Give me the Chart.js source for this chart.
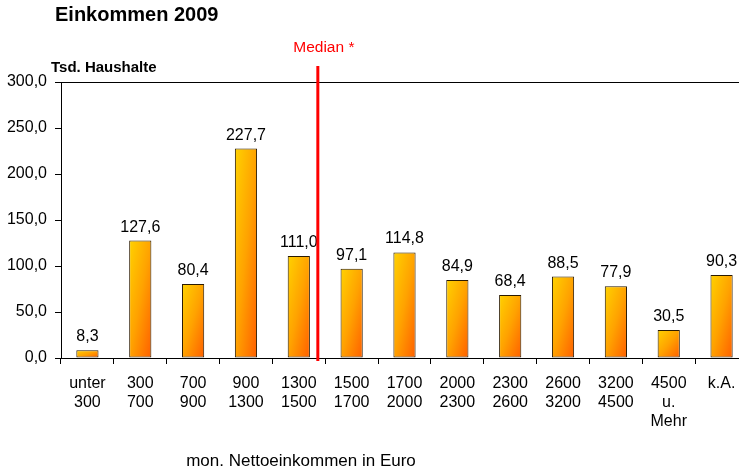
<!DOCTYPE html>
<html>
<head>
<meta charset="utf-8">
<script src="https://cdn.jsdelivr.net/npm/chart.js@4/dist/chart.umd.min.js"></script>
<style>
  html, body { margin: 0; padding: 0; background: #fff; overflow: hidden; }
  #wrap { width: 760px; height: 470px; }
</style>
</head>
<body>
<div id="wrap"><canvas id="chart" width="760" height="470"></canvas></div>
<script>
// Daten
const kategorien = [
    ['unter', '300'], ['300', '700'], ['700', '900'], ['900', '1300'], ['1300', '1500'],
    ['1500', '1700'], ['1700', '2000'], ['2000', '2300'], ['2300', '2600'], ['2600', '3200'],
    ['3200', '4500'], ['4500', 'u.', 'Mehr'], ['k.A.']
];
const haushalte = [8.3, 127.6, 80.4, 227.7, 111.0, 97.1, 114.8, 84.9, 68.4, 88.5, 77.9, 30.5, 90.3];
const y_ticks = [0, 50, 100, 150, 200, 250, 300];
// Median liegt in der Klasse 1300-1500 (Index 4), ca. bei 1470 Euro
const median_pos = 4.36;

const fmt = v => v.toFixed(1).replace('.', ',');
const FONT = '"Liberation Sans", Arial, sans-serif';

function bar_gradient(ctx, el) {
    const l = el.x - el.width / 2, r = el.x + el.width / 2;
    const t = Math.min(el.y, el.base), b = Math.max(el.y, el.base);
    const w = r - l, h = b - t;
    // diagonaler Verlauf oben links -> unten rechts
    const k = 2 * w * h / (w * w + h * h);
    const g = ctx.createLinearGradient(l, t, l + h * k, t + w * k);
    g.addColorStop(0, '#ffd200');
    g.addColorStop(0.5, '#ffa200');
    g.addColorStop(1, '#ff5f00');
    return g;
}

const extras = {
    id: 'extras',
    beforeDatasetsDraw(chart) {
        // Verlauf pro Balken setzen
        chart.getDatasetMeta(0).data.forEach(bar => {
            bar.options.backgroundColor = bar_gradient(chart.ctx, bar);
        });
    },
    afterDatasetsDraw(chart) {
        const ctx = chart.ctx;
        const area = chart.chartArea;
        const xs = chart.scales.x;
        ctx.save();

        // Werte über den Balken
        ctx.fillStyle = '#000';
        ctx.font = '16px ' + FONT;
        ctx.textAlign = 'center';
        ctx.textBaseline = 'alphabetic';
        chart.getDatasetMeta(0).data.forEach((bar, i) => {
            ctx.fillText(fmt(haushalte[i]), bar.x, bar.y - 9);
        });

        // Medianlinie
        const mx = xs.getPixelForValue(median_pos);
        ctx.strokeStyle = '#ff0000';
        ctx.lineWidth = 3;
        ctx.beginPath();
        ctx.moveTo(mx, area.top - 16);
        ctx.lineTo(mx, area.bottom + 3);
        ctx.stroke();
        ctx.fillStyle = '#ff0000';
        ctx.font = '15.5px ' + FONT;
        ctx.textBaseline = 'middle';
        ctx.fillText('Median *', mx + 6, area.top - 34);

        // Titel und Achsentitel
        ctx.fillStyle = '#000';
        ctx.textAlign = 'left';
        ctx.font = 'bold 20px ' + FONT;
        ctx.fillText('Einkommen 2009', 55, 15);
        ctx.font = 'bold 15px ' + FONT;
        ctx.fillText('Tsd. Haushalte', 51, area.top - 14);
        ctx.font = '17px ' + FONT;
        ctx.textAlign = 'center';
        ctx.fillText('mon. Nettoeinkommen in Euro', 301, 461);
        ctx.restore();
    }
};

new Chart(document.getElementById('chart').getContext('2d'), {
    type: 'bar',
    data: {
        labels: kategorien,
        datasets: [{
            data: haushalte,
            backgroundColor: () => '#ffa200',
            borderColor: '#2a1a00',
            borderWidth: 1,
            borderSkipped: false,
            barPercentage: 0.42,
            categoryPercentage: 1.0
        }]
    },
    options: {
        responsive: false,
        animation: false,
        layout: { padding: { top: 82, right: 12, left: 0, bottom: 0 } },
        plugins: {
            legend: { display: false },
            tooltip: { enabled: false }
        },
        scales: {
            x: {
                afterFit: s => { s.height = 112; },
                grid: {
                    offset: true,
                    drawOnChartArea: false,
                    tickLength: 6,
                    tickColor: '#000'
                },
                border: { color: '#000', width: 1 },
                ticks: {
                    color: '#000',
                    font: { size: 16, family: FONT, lineHeight: 1.2 },
                    padding: 10,
                    maxRotation: 0,
                    autoSkip: false
                }
            },
            y: {
                min: 0,
                max: 300,
                afterFit: s => { s.width = 61; },
                afterBuildTicks: s => { s.ticks = y_ticks.map(v => ({ value: v })); },
                grid: {
                    color: c => (c.tick && c.tick.value === 300) ? '#000' : 'rgba(0,0,0,0)',
                    tickColor: '#000',
                    tickLength: 6
                },
                border: { color: '#000', width: 1 },
                ticks: {
                    color: '#000',
                    font: { size: 16, family: FONT },
                    padding: 8,
                    callback: v => fmt(v)
                }
            }
        }
    },
    plugins: [extras]
});
</script>
</body>
</html>
